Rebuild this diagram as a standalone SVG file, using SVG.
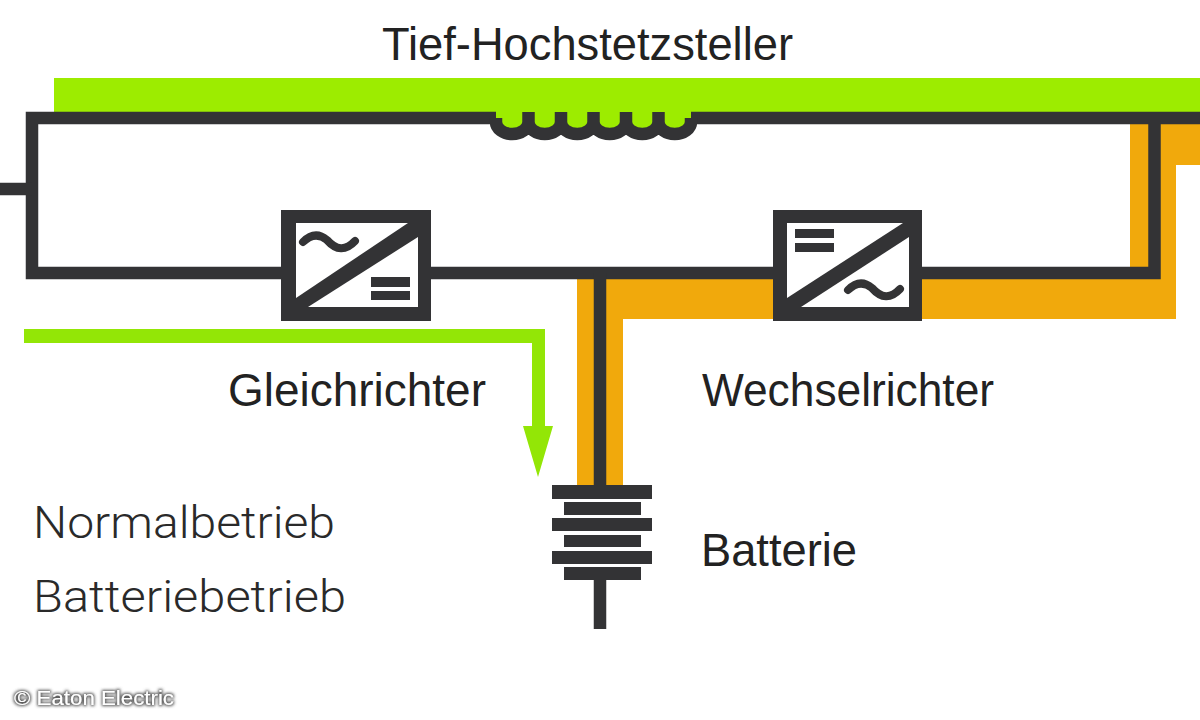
<svg xmlns="http://www.w3.org/2000/svg" width="1200" height="720" viewBox="0 0 1200 720">
<style>
.dark{fill:#333335}
.wire{fill:none;stroke:#333335;stroke-width:12.500}
.hole{fill:#fff}
.tilde{fill:none;stroke:#333335;stroke-width:8;stroke-linecap:round}
.green{fill:#9dec00}
.orange{fill:#f1a90c}
.lab{font-family:"Liberation Sans",Arial,sans-serif;font-size:47px;fill:#222}
.lt{font-family:Roboto,"Liberation Sans",sans-serif;font-weight:300;font-size:45px;fill:#2a2a2a}
.copy{font-family:"Liberation Sans",Arial,sans-serif;font-size:21px;fill:#fff}
</style>
<defs>
<filter id="halo" x="-10%" y="-50%" width="120%" height="200%">
<feMorphology in="SourceAlpha" operator="dilate" radius="1" result="d"/>
<feGaussianBlur in="d" stdDeviation="1.6" result="b"/>
<feFlood flood-color="#555"/>
<feComposite in2="b" operator="in" result="s"/>
<feMerge><feMergeNode in="s"/><feMergeNode in="SourceGraphic"/></feMerge>
</filter>
</defs>
<rect width="1200" height="720" fill="#fff"/>
<g id="flows">
<rect class="green" x="54" y="78" width="1146" height="35"/>
<path class="orange" d="M577 485V279H1130V124H1200V165H1176V319H623V485Z"/>
<path id="normal-arrow" d="M24 329H545V426H553L538 477L523 426H532V343H24Z" fill="#93e606"/>
</g>
<g id="connectors">
<path class="wire" d="M496 118H32V273H1154.500V118M691 118H1200"/>
<path class="wire" d="M0 189H32"/>
<path class="wire" d="M600 273V485M600 575V629"/>
</g>
<g id="inductor">
<path class="green" d="M496 112V122a16.250 12 0 0 0 32.500 0a16.250 12 0 0 0 32.500 0a16.250 12 0 0 0 32.500 0a16.250 12 0 0 0 32.500 0a16.250 12 0 0 0 32.500 0a16.250 12 0 0 0 32.500 0V112Z"/>
<path fill="none" stroke="#333335" stroke-width="12.500" d="M496 118V122a16.250 12 0 0 0 32.500 0V112V122a16.250 12 0 0 0 32.500 0V112V122a16.250 12 0 0 0 32.500 0V112V122a16.250 12 0 0 0 32.500 0V112V122a16.250 12 0 0 0 32.500 0V112V122a16.250 12 0 0 0 32.500 0V118"/>
</g>
<g id="gleichrichter">
<rect class="dark" x="281" y="210" width="150" height="111"/>
<path class="hole" d="M296 223H408L296 298Z"/>
<path class="hole" d="M418 237V307H308Z"/>
<path class="tilde" d="M303 242Q315 230 327 240Q341 256 355 241"/>
<rect class="dark" x="371" y="277" width="39" height="10"/>
<rect class="dark" x="371" y="291" width="39" height="9"/>
</g>
<g id="wechselrichter">
<rect class="dark" x="773" y="210" width="149" height="111"/>
<path class="hole" d="M787 223H903L787 298Z"/>
<path class="hole" d="M909 237V307H801Z"/>
<path class="tilde" d="M848 290Q860 278 872 288Q886 304 900 289"/>
<rect class="dark" x="795" y="229" width="39" height="9"/>
<rect class="dark" x="795" y="243" width="39" height="9"/>
</g>
<g id="batterie">
<rect class="dark" x="552" y="485" width="100" height="14"/>
<rect class="dark" x="564" y="502" width="77" height="13"/>
<rect class="dark" x="552" y="518" width="100" height="13"/>
<rect class="dark" x="564" y="535" width="77" height="12"/>
<rect class="dark" x="552" y="551" width="100" height="13"/>
<rect class="dark" x="564" y="567" width="77" height="13"/>
</g>
<g id="labels">
<text class="lab" x="382" y="60" textLength="411" lengthAdjust="spacingAndGlyphs">Tief-Hochstetzsteller</text>
<text class="lab" x="228" y="406" textLength="258" lengthAdjust="spacingAndGlyphs">Gleichrichter</text>
<text class="lab" x="702" y="406" textLength="292" lengthAdjust="spacingAndGlyphs">Wechselrichter</text>
<text class="lab" x="701" y="566" textLength="156" lengthAdjust="spacingAndGlyphs">Batterie</text>
<text class="lt" x="33" y="538" textLength="302" lengthAdjust="spacingAndGlyphs">Normalbetrieb</text>
<text class="lt" x="33" y="612" textLength="313" lengthAdjust="spacingAndGlyphs">Batteriebetrieb</text>
<text class="copy" x="14" y="705" textLength="160" lengthAdjust="spacingAndGlyphs" filter="url(#halo)">© Eaton Electric</text>
</g>
</svg>
